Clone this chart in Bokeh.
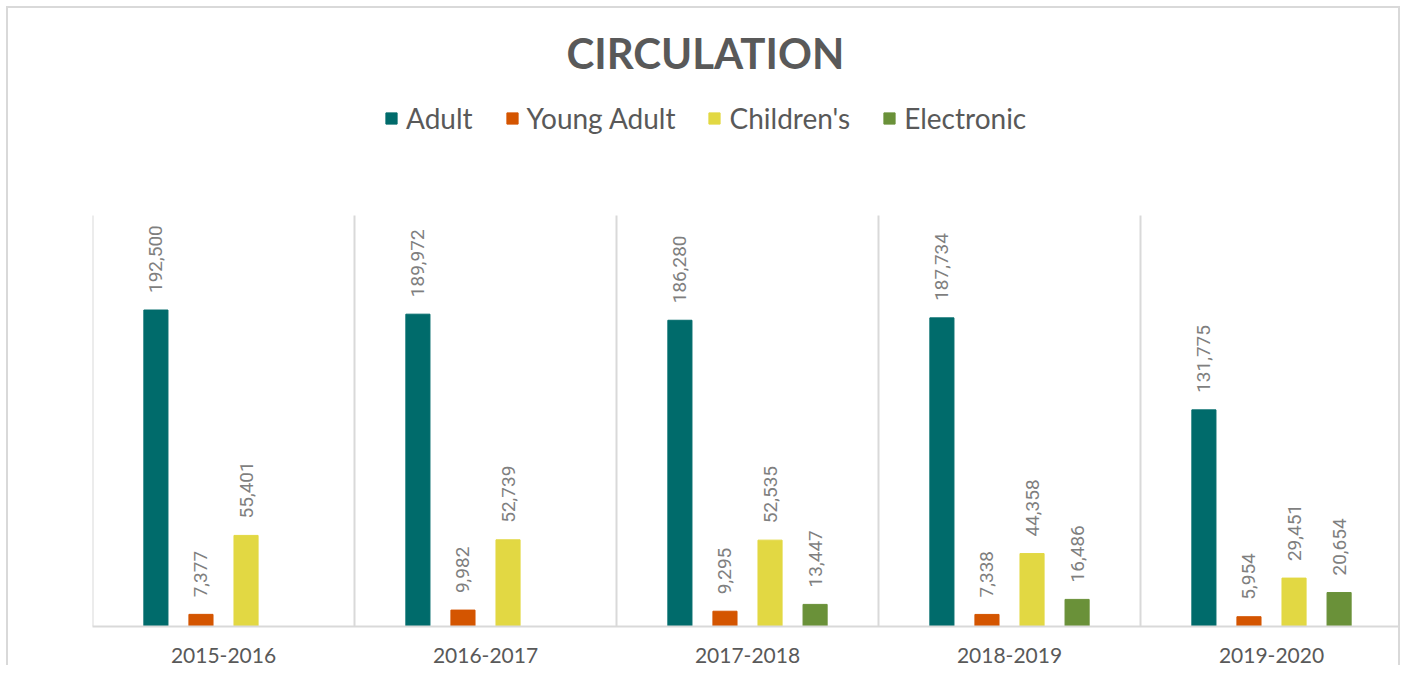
import math
from bokeh.plotting import figure
from bokeh.models import ColumnDataSource, FactorRange, Legend, LegendItem, Range1d
from bokeh.core.properties import value
from bokeh.transform import dodge
from bokeh.embed import file_html
from bokeh.resources import INLINE

years = ["2015-2016", "2016-2017", "2017-2018", "2018-2019", "2019-2020"]
adult = [192500, 189972, 186280, 187734, 131775]
young_adult = [7377, 9982, 9295, 7338, 5954]
childrens = [55401, 52739, 52535, 44358, 29451]
electronic = [math.nan, math.nan, 13447, 16486, 20654]

series_names = ["Adult", "Young Adult", "Children's", "Electronic"]
series_values = [adult, young_adult, childrens, electronic]
colors = ["#006B6B", "#D45500", "#E2D843", "#6A9139"]
offsets = [-0.258, -0.086, 0.086, 0.258]
bar_w = 0.092

axis_max = 250000
# frame spans page y 88..626; value axis_max sits at page y 215
y_end = axis_max * (626 - 88) / (626 - 215)

p = figure(
    x_range=FactorRange(*years, range_padding=0),
    y_range=Range1d(0, y_end),
    width=1394, height=659,
    min_border_left=84, min_border_right=0, min_border_top=80, min_border_bottom=41,
    output_backend="svg", toolbar_location=None, y_axis_location=None,
    title="CIRCULATION",
)
p.styles = {"margin-left": "6px", "margin-top": "6px",
            "border-left": "2px solid #d9d9d9", "border-top": "2px solid #d9d9d9",
            "border-right": "2px solid #d9d9d9"}
p.outline_line_color = None
p.xgrid.grid_line_color = None
p.ygrid.grid_line_color = None

p.title.align = "left"
p.title.offset = 474
p.title.standoff = 22
p.title.text_font = "Lato"
p.title.text_font_style = "bold"
p.title.text_font_size = "42px"
p.title.text_color = "#595959"

# category separators
sep = ColumnDataSource(dict(x=[0, 1, 2, 3, 4], y0=[0] * 5, y1=[axis_max] * 5))
p.segment(x0="x", y0="y0", x1="x", y1="y1", source=sep, line_color="#d9d9d9", line_width=2)

items = []
for name, vals, col, off in zip(series_names, series_values, colors, offsets):
    labels = ["" if (isinstance(v, float) and math.isnan(v)) else f"{v:,}" for v in vals]
    src = ColumnDataSource(dict(year=years, value=vals, label=labels))
    r = p.vbar(x=dodge("year", off, range=p.x_range), top="value", width=bar_w,
               source=src, fill_color=col, line_color=col)
    items.append(LegendItem(label=name, renderers=[r]))
    p.text(x=dodge("year", off, range=p.x_range), y="value", text="label", source=src,
           angle=math.pi / 2, text_align="left", text_baseline="middle",
           y_offset=-17, text_font=value("Roboto"), text_font_size="19px",
           text_color="#7f7f7f")

legend = Legend(items=items, orientation="horizontal", location=(292, 491),
                padding=0, margin=0, spacing=32, glyph_width=14, glyph_height=14,
                label_standoff=8, label_text_font="Lato", label_text_font_size="28px",
                label_text_color="#595959", border_line_color=None,
                background_fill_alpha=0)
p.add_layout(legend)

ax = p.xaxis[0]
ax.axis_line_color = "#d9d9d9"
ax.axis_line_width = 2
ax.major_tick_line_color = None
ax.minor_tick_line_color = None
ax.major_label_text_font = "Lato"
ax.major_label_text_font_size = "21px"
ax.major_label_text_color = "#595959"
ax.major_label_standoff = 15

open("out.html", "w").write(file_html(p, INLINE))
